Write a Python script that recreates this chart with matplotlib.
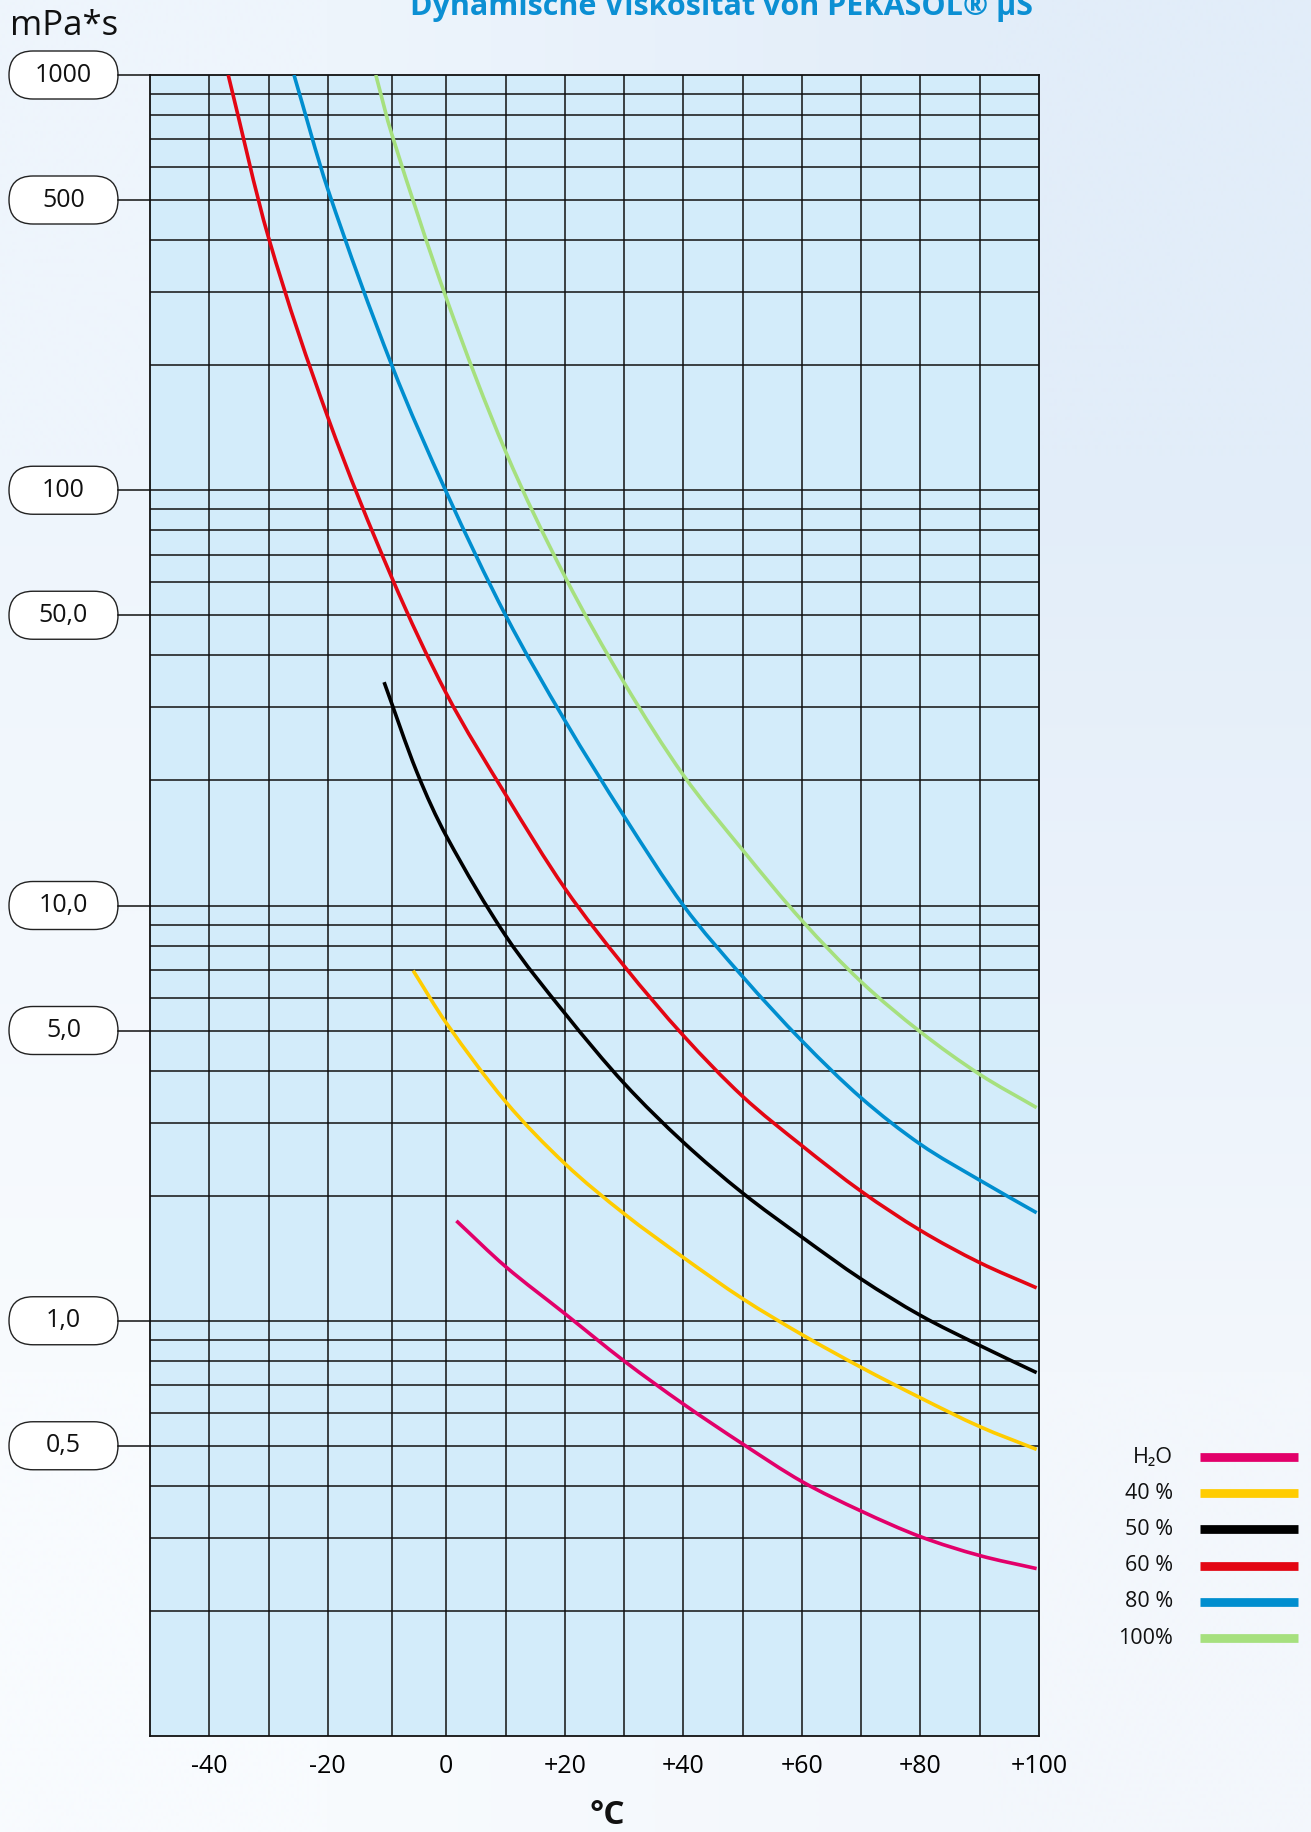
import numpy as np
import matplotlib
matplotlib.use("Agg")
import matplotlib.pyplot as plt
from matplotlib.patches import FancyBboxPatch, PathPatch
from matplotlib.path import Path

plt.rcParams['font.family'] = ['Open Sans', 'DejaVu Sans']

# viscosity curves: temperature in °C, viscosity in mPa*s
t_h2o = [1.7, 10, 20, 30, 40, 50, 60, 70, 80, 90, 99.6]
v_h2o = [1.74, 1.35, 1.04, 0.80, 0.63, 0.505, 0.41, 0.348, 0.302, 0.272, 0.253]

t_40 = [-5.6, 0, 10, 20, 30, 40, 50, 60, 70, 80, 90, 99.6]
v_40 = [6.97, 5.21, 3.37, 2.39, 1.81, 1.42, 1.13, 0.926, 0.772, 0.652, 0.556, 0.49]

t_50 = [-10.5, -5, 0, 10, 20, 30, 40, 50, 60, 70, 80, 90, 99.6]
v_50 = [34.5, 21.0, 14.7, 8.46, 5.5, 3.73, 2.69, 2.03, 1.59, 1.26, 1.03, 0.872, 0.75]

t_60 = [-36.8, -30, -20, -9.2, 0, 10, 20, 30, 40, 50, 60, 70, 80, 90, 99.6]
v_60 = [1000, 406, 150, 61.6, 32.4, 18.5, 11.0, 7.15, 4.86, 3.47, 2.64, 2.05, 1.65, 1.38, 1.20]

t_80 = [-25.7, -20, -9.2, 0, 10, 20, 30, 40, 50, 60, 70, 80, 90, 99.6]
v_80 = [1000, 531, 200, 99, 50, 27.9, 16.4, 10.0, 6.74, 4.72, 3.44, 2.66, 2.18, 1.82]

t_100 = [-11.9, -9.2, 0, 10, 20, 30, 40, 50, 60, 70, 80, 90, 99.6]
v_100 = [1000, 720, 290, 124, 62, 34.4, 20.6, 13.6, 9.2, 6.55, 4.96, 3.92, 3.26]

series_t = [t_h2o, t_40, t_50, t_60, t_80, t_100]
series_v = [v_h2o, v_40, v_50, v_60, v_80, v_100]
labels = ['H\u2082O', '40 %', '50 %', '60 %', '80 %', '100%']
colors = ['#E2006A', '#FFCC00', '#000000', '#E30613', '#008ECF', '#A6E07E']

x_ticks = [-40, -20, 0, 20, 40, 60, 80, 100]
x_ticklabels = ['-40', '-20', '0', '+20', '+40', '+60', '+80', '+100']
x_grid = [-40, -30, -20, -9.2, 0, 10, 20, 30, 40, 50, 60, 70, 80, 90]
y_marks = [1000, 500, 100, 50, 10, 5, 1, 0.5]
y_marklabels = ['1000', '500', '100', '50,0', '10,0', '5,0', '1,0', '0,5']


def smooth_path(t, v):
    # cubic Hermite path through the points, built in (t, log v) space
    t = np.asarray(t, float)
    y = np.log10(v)
    n = len(t)
    m = np.empty(n)
    m[0] = (y[1] - y[0]) / (t[1] - t[0])
    m[-1] = (y[-1] - y[-2]) / (t[-1] - t[-2])
    for i in range(1, n - 1):
        m[i] = (y[i + 1] - y[i - 1]) / (t[i + 1] - t[i - 1])
    verts = [(t[0], v[0])]
    codes = [Path.MOVETO]
    for i in range(n - 1):
        h = t[i + 1] - t[i]
        verts.append((t[i] + h / 3, 10 ** (y[i] + m[i] * h / 3)))
        verts.append((t[i + 1] - h / 3, 10 ** (y[i + 1] - m[i + 1] * h / 3)))
        verts.append((t[i + 1], v[i + 1]))
        codes += [Path.CURVE4] * 3
    return Path(verts, codes)


W, H = 1311, 1832
fig = plt.figure(figsize=(W / 100, H / 100), dpi=100)

# soft page background
bg = fig.add_axes([0, 0, 1, 1], zorder=0)
grad = np.array([[[238, 245, 252], [226, 237, 249]],
                 [[248, 251, 254], [243, 247, 252]]]) / 255.0
bg.imshow(grad, extent=[0, 1, 0, 1], aspect='auto', interpolation='bilinear')
bg.axis('off')

ax = fig.add_axes([150 / W, 1 - 1736 / H, 889 / W, 1661 / H], zorder=1)
ax.set_facecolor('#d3ecfa')
ax.set_xlim(-50, 100)
ax.set_yscale('log')
ax.set_ylim(0.1, 1000)

for x in x_grid:
    ax.axvline(x, color='#111111', lw=1.1, zorder=1)
for e in range(-1, 3):
    for m in range(1, 10):
        v = m * 10.0 ** e
        if 0.1 < v < 1000:
            ax.axhline(v, color='#111111', lw=1.1, zorder=1)

for t, v, c in zip(series_t, series_v, colors):
    ax.add_patch(PathPatch(smooth_path(t, v), fc='none', ec=c, lw=2.6,
                           capstyle='butt', zorder=3))

ax.set_xticks(x_ticks)
ax.set_xticklabels(x_ticklabels)
ax.tick_params(axis='x', length=0, pad=13, labelsize=18)
ax.yaxis.set_major_formatter(plt.NullFormatter())
ax.yaxis.set_minor_formatter(plt.NullFormatter())
ax.tick_params(axis='y', which='both', length=0, labelleft=False)
for s in ax.spines.values():
    s.set_color('#111111')
    s.set_linewidth(1.3)

# overlay in pixel units for labels around the plot
ov = fig.add_axes([0, 0, 1, 1], zorder=2)
ov.set_xlim(0, W)
ov.set_ylim(0, H)
ov.axis('off')
ov.patch.set_alpha(0)

for val, lab in zip(y_marks, y_marklabels):
    yp = ax.transData.transform((0, val))[1]
    ov.plot([118, 150], [yp, yp], color='#111111', lw=1.1)
    ov.add_patch(FancyBboxPatch((9, yp - 24), 109, 48,
                                boxstyle='round,pad=0,rounding_size=24',
                                fc='white', ec='#222222', lw=1.0))
    ov.text(63.5, yp, lab, ha='center', va='center', fontsize=18, color='#111111')

ov.text(721, H - 15, 'Dynamische Viskosität von PEKASOL® µS', ha='center',
        va='baseline', fontsize=22, fontweight='bold', color='#0B8FD3')
ov.text(10, H - 35, 'mPa*s', ha='left', va='baseline', fontsize=25, color='#111111')
ov.text(607, H - 1815, '°C', ha='center', va='center', fontsize=24,
        fontweight='bold', color='#111111')

# legend
for i, (lab, c) in enumerate(zip(labels, colors)):
    yp = H - (1457 + i * 36.2)
    ov.plot([1200, 1298], [yp, yp], color=c, lw=6.3, solid_capstyle='butt')
    ov.text(1173, yp, lab, ha='right', va='center', fontsize=15.5, color='#111111')

fig.savefig('out.png', dpi=100)
